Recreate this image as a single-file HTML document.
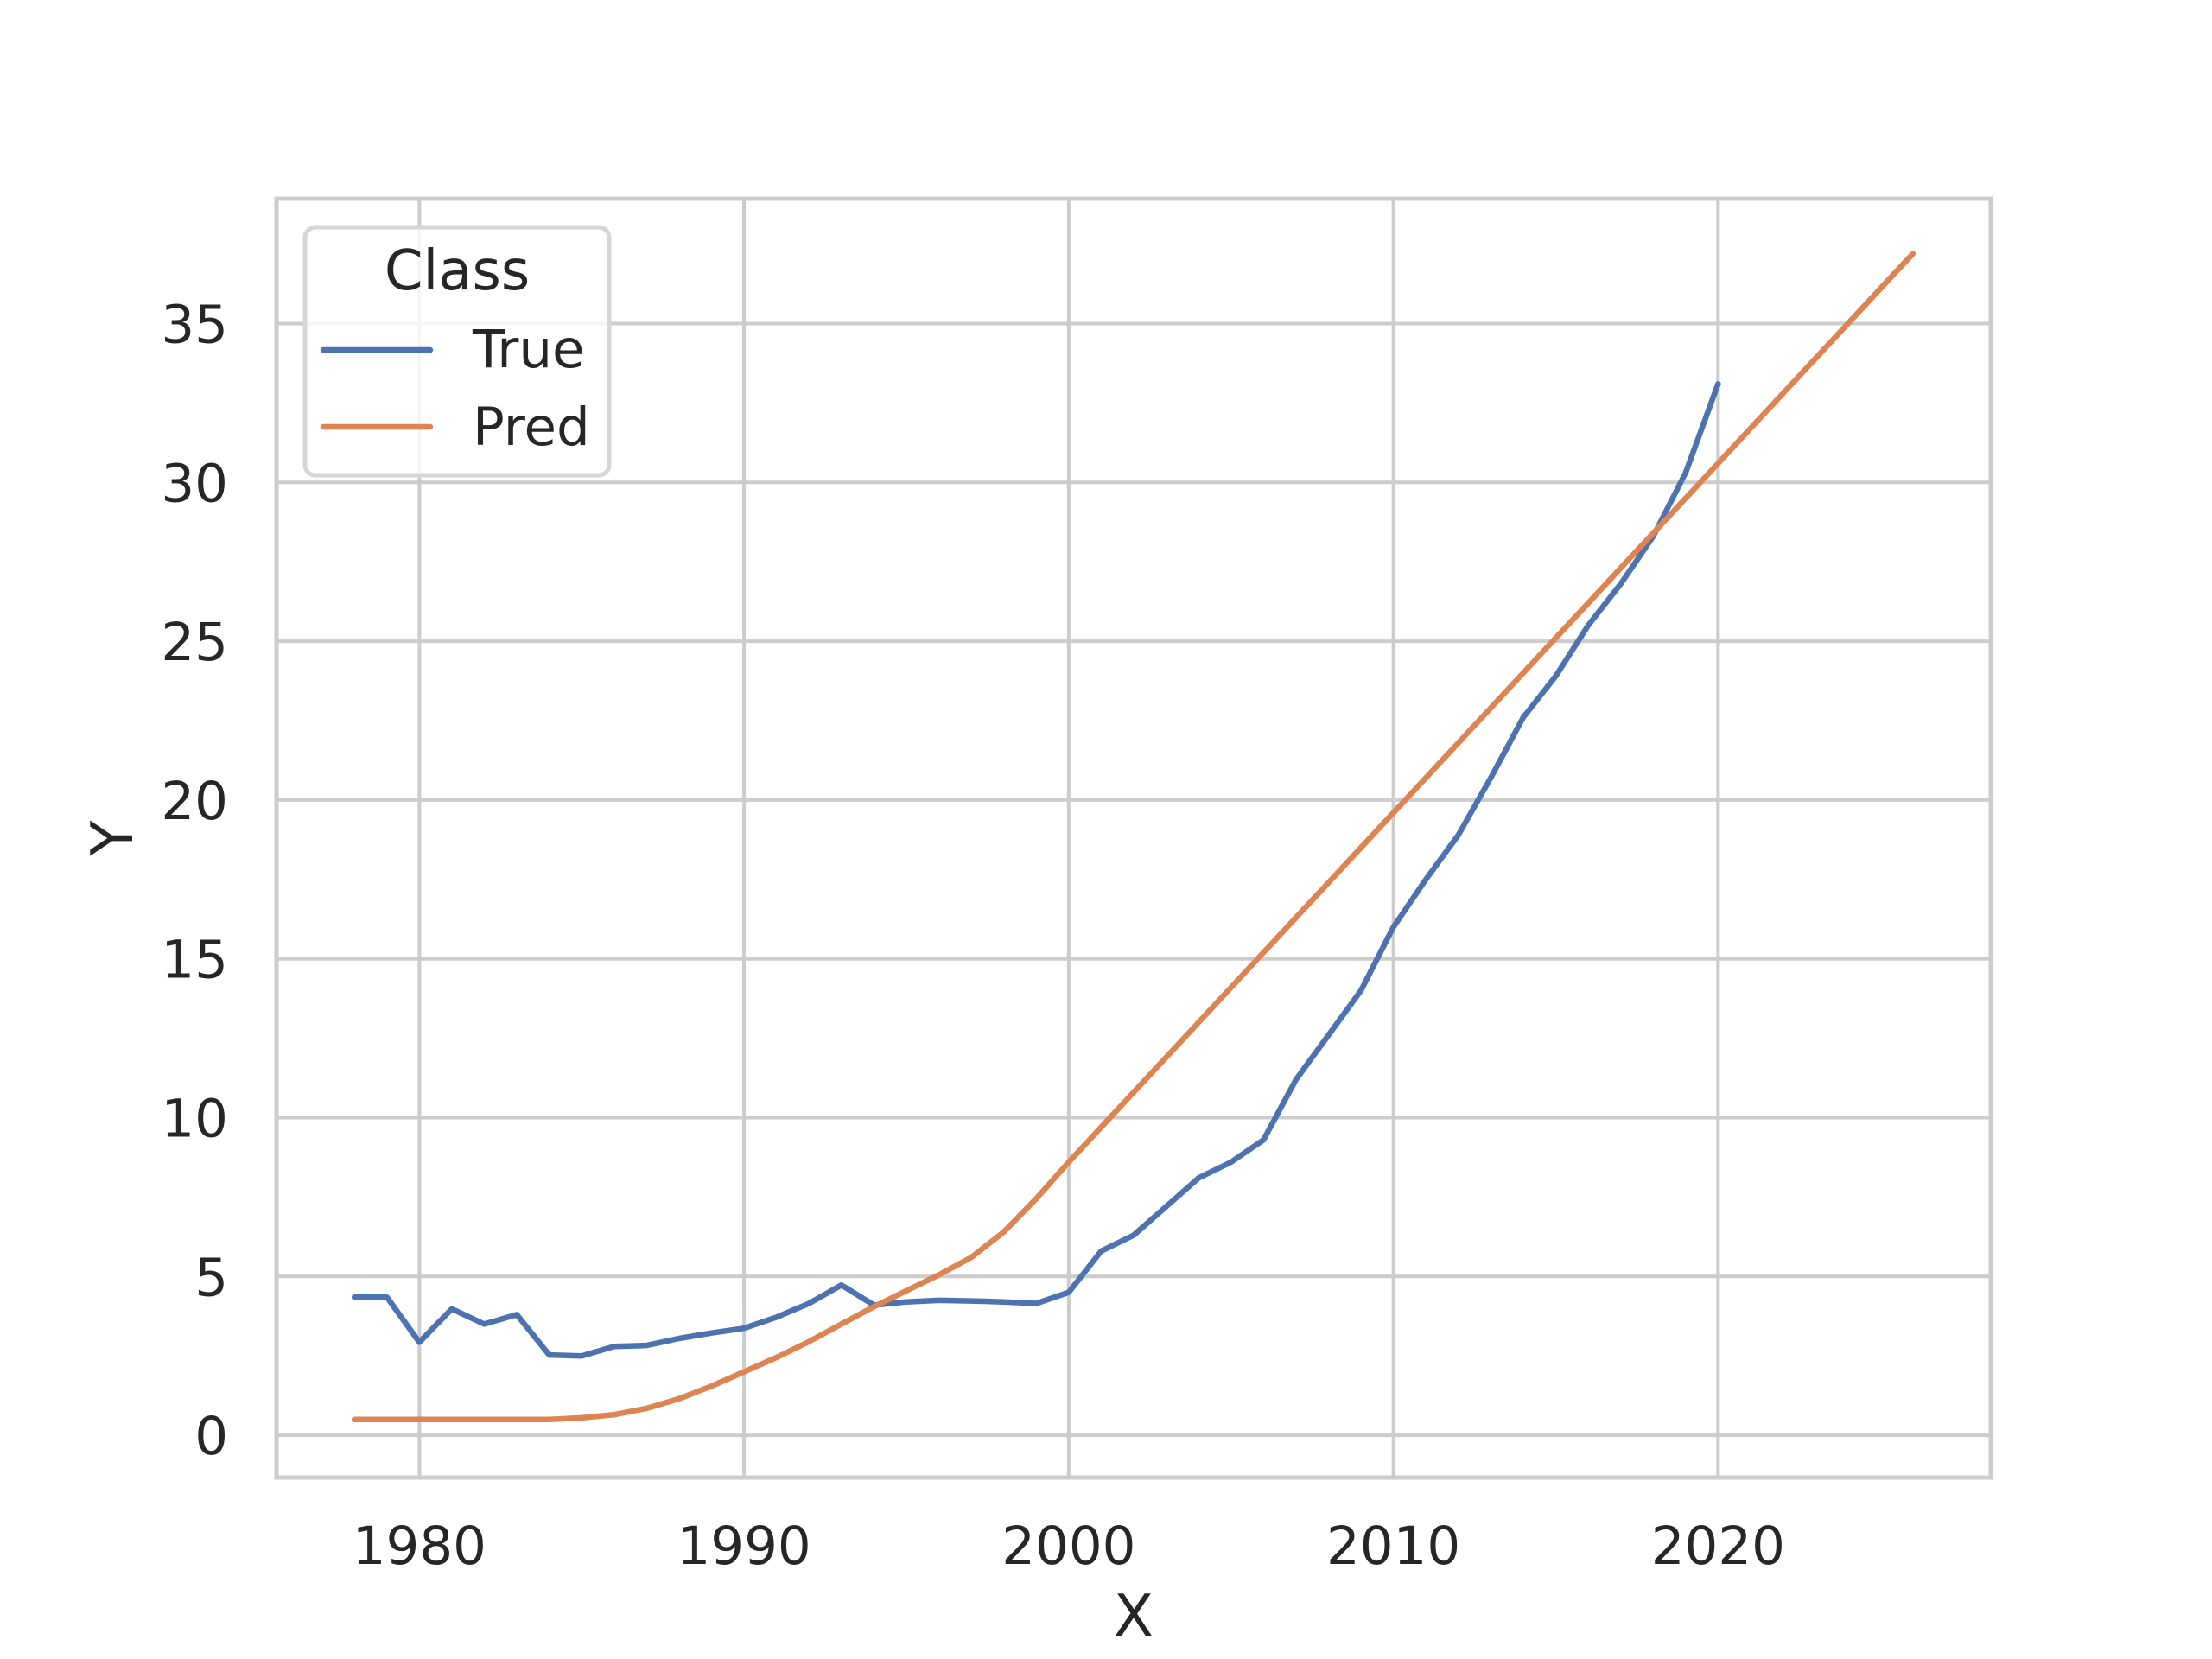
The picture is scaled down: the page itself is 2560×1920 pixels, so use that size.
<!DOCTYPE html>
<html><head><meta charset="utf-8"><style>
html,body{margin:0;padding:0;background:#fff;}
svg{display:block;font-family:"DejaVu Sans","Liberation Sans",sans-serif;}
</style></head><body>
<svg id="chart" width="2560" height="1920" viewBox="0 0 2560 1920" xmlns="http://www.w3.org/2000/svg">
<rect width="2560" height="1920" fill="#fff"/>
<g id="grid"></g>
<g id="series"></g>
<rect x="320" y="230" width="1984" height="1480" fill="none" stroke="#cccccc" stroke-width="5"/>
<g id="ticks" font-size="61" fill="#262626"></g>
<text x="1312" y="1893" font-size="67" text-anchor="middle" fill="#262626">X</text>
<text transform="translate(153,970) rotate(-90)" font-size="67" text-anchor="middle" fill="#262626">Y</text>
<g>
<rect x="353" y="263" width="352" height="287" rx="12" fill="#fff" fill-opacity="0.8" stroke="#d6d6d6" stroke-width="5"/>
<text x="529" y="335" font-size="64" text-anchor="middle" fill="#262626">Class</text>
<line x1="374" y1="405" x2="498" y2="405" stroke="#4c72b0" stroke-width="6.5" stroke-linecap="round"/>
<text x="547" y="425" font-size="61" fill="#262626">True</text>
<line x1="374" y1="494" x2="498" y2="494" stroke="#dd8452" stroke-width="6.5" stroke-linecap="round"/>
<text x="547" y="515" font-size="61" fill="#262626">Pred</text>
</g>
</svg>
<script>
const trueYears = [1978,1979,1980,1981,1982,1983,1984,1985,1986,1987,1988,1989,1990,1991,1992,1993,1994,1995,1996,1997,1998,1999,2000,2001,2002,2003,2004,2005,2006,2007,2008,2009,2010,2011,2012,2013,2014,2015,2016,2017,2018,2019,2020];
const trueValues = [4.35,4.35,2.93,3.98,3.5,3.8,2.53,2.5,2.8,2.83,3.05,3.22,3.37,3.72,4.15,4.73,4.1,4.2,4.25,4.23,4.2,4.15,4.5,5.8,6.3,7.2,8.1,8.6,9.3,11.2,12.6,14.0,16.0,17.5,18.9,20.7,22.6,23.9,25.5,26.8,28.3,30.3,33.1];
const predYears = [1978,1979,1980,1981,1982,1983,1984,1985,1986,1987,1988,1989,1990,1991,1992,1993,1994,1995,1996,1997,1998,1999,2000,2001,2002,2003,2004,2005,2006,2007,2008,2009,2010,2011,2012,2013,2014,2015,2016,2017,2018,2019,2020,2021,2022,2023,2024,2025,2026];
const predValues = [0.5,0.5,0.5,0.5,0.5,0.5,0.5,0.55,0.65,0.85,1.15,1.55,2.0,2.45,2.95,3.5,4.05,4.55,5.05,5.6,6.4,7.45,8.6,9.7,10.8,11.9,13.0,14.1,15.2,16.3,17.4,18.5,19.6,20.7,21.8,22.9,24.0,25.1,26.2,27.3,28.4,29.5,30.6,31.7,32.8,33.9,35.0,36.1,37.2];
const xTicks = [1980,1990,2000,2010,2020];
const yTicks = [0,5,10,15,20,25,30,35];

const X0=320, X1=2304, Y0=230, Y1=1710;
const xMin=1975.6, xMax=2028.4, yMin=-1.33, yMax=38.93;
function sx(v){return X0+(v-xMin)/(xMax-xMin)*(X1-X0);}
function sy(v){return Y1-(v-yMin)/(yMax-yMin)*(Y1-Y0);}
const NS="http://www.w3.org/2000/svg";
const grid=document.getElementById('grid'), ticks=document.getElementById('ticks'), series=document.getElementById('series');
xTicks.forEach(t=>{
  const l=document.createElementNS(NS,'line');
  l.setAttribute('x1',sx(t));l.setAttribute('x2',sx(t));l.setAttribute('y1',Y0);l.setAttribute('y2',Y1);
  l.setAttribute('stroke','#cccccc');l.setAttribute('stroke-width','4');
  
  
  grid.appendChild(l);
  const tx=document.createElementNS(NS,'text');
  tx.setAttribute('x',sx(t));tx.setAttribute('y',1810);tx.setAttribute('text-anchor','middle');
  tx.textContent=t;
  
  
  ticks.appendChild(tx);
});
yTicks.forEach(t=>{
  const l=document.createElementNS(NS,'line');
  l.setAttribute('x1',X0);l.setAttribute('x2',X1);l.setAttribute('y1',sy(t));l.setAttribute('y2',sy(t));
  l.setAttribute('stroke','#cccccc');l.setAttribute('stroke-width','4');
  
  
  grid.appendChild(l);
  const tx=document.createElementNS(NS,'text');
  tx.setAttribute('x',264);tx.setAttribute('y',sy(t)+22);tx.setAttribute('text-anchor','end');
  tx.textContent=t;
  
  
  ticks.appendChild(tx);
});
function path(xs,ys,color,name){
  const n=Math.min(xs.length,ys.length);
  const pts=[];
  for(let i=0;i<n;i++) pts.push(sx(xs[i]).toFixed(1)+','+sy(ys[i]).toFixed(1));
  const p=document.createElementNS(NS,'polyline');
  p.setAttribute('points',pts.join(' '));
  p.setAttribute('fill','none');p.setAttribute('stroke',color);p.setAttribute('stroke-width','6.5');
  p.setAttribute('stroke-linecap','round');p.setAttribute('stroke-linejoin','round');
  
  
  series.appendChild(p);
}
path(trueYears,trueValues,'#4c72b0','true-line');
path(predYears,predValues,'#dd8452','pred-line');
</script>
</body></html>
